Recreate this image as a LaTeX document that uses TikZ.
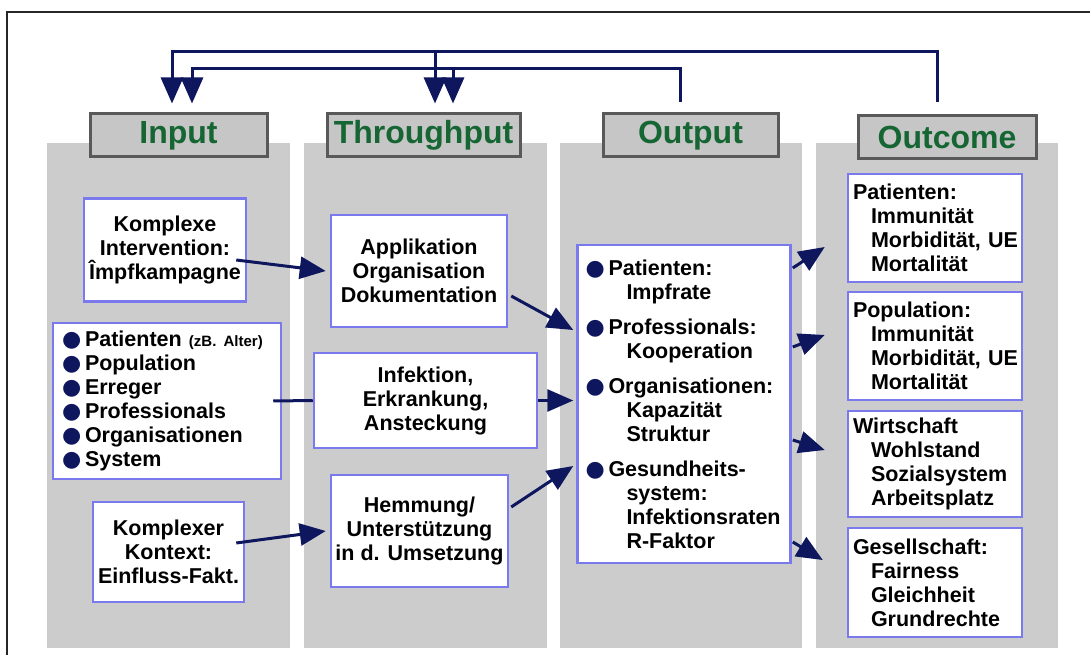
\documentclass[tikz,border=0pt]{standalone}
\usepackage{fontspec}
\setmainfont{Liberation Sans}
\newfontfamily\symfont{DejaVu Sans}
\usetikzlibrary{arrows.meta,positioning}
\definecolor{navy}{RGB}{14,22,94}
\definecolor{frameblue}{RGB}{122,122,238}
\definecolor{panelgray}{RGB}{204,204,204}
\definecolor{headgray}{RGB}{198,198,198}
\definecolor{headgreen}{RGB}{22,102,52}
\newcommand{\bul}{\makebox[24pt][l]{\hspace*{1pt}{\symfont\fontsize{22}{22}\selectfont\textcolor{navy}{●}}}}
\newcommand{\ind}{\hspace*{18pt}}
\newcommand{\sub}{\hspace*{42pt}}
\begin{document}
\begin{tikzpicture}
            [x = 1pt, y = -1pt,
             panel/.style = {fill = panelgray},
             head/.style = {draw = black!65, line width = 3pt, fill = headgray, text = headgreen,
                            font = \fontsize{32}{36}\selectfont\bfseries, minimum height = 43pt, inner sep = 0pt},
             box/.style = {draw = frameblue, line width = 2.5pt, fill = white,
                           font = \fontsize{21.5}{24}\selectfont\bfseries, align = center, inner sep = 0pt},
             lbox/.style = {box, align = left},
             link/.style = {draw = navy, line width = 3pt},
             arr/.style = {link, -{Triangle[length = 26pt, width = 22pt]}}]
            \useasboundingbox (0,0) rectangle (1090,655);
            \fill[panel] (47,143) rectangle (290,648);
            \fill[panel] (304,143) rectangle (547,648);
            \fill[panel] (560,143) rectangle (802,648);
            \fill[panel] (816,143) rectangle (1058,648);
            \draw[line width = 2.5pt, black!85] (7,660) -- (7,12) -- (1095,12);
            \node[head, minimum width = 177pt] (hin) at (178.5,135.5) {Input};
            \node[head, minimum width = 193pt] (hthr) at (423.5,135.5) {Throughput};
            \node[head, minimum width = 175pt] (hout) at (690.5,135.5) {Output};
            \node[head, minimum width = 178pt] (hoc) at (947,137) {Outcome};
            \node[box, minimum width = 162pt, minimum height = 103pt] (imp) at (165,250) {Komplexe\\Intervention:\\Împfkampagne};
            \node[lbox, minimum width = 228pt, minimum height = 156pt, inner xsep = 8pt, text width = 212pt] (pop) at (167,401)
                {\bul Patienten {\fontsize{15}{24}\selectfont (zB. Alter)}\\\bul Population\\\bul Erreger\\\bul Professionals\\\bul Organisationen\\\bul System};
            \node[box, minimum width = 151pt, minimum height = 100pt] (ctx) at (168.5,552) {Komplexer\\Kontext:\\Einfluss-Fakt.};
            \node[box, minimum width = 176pt, minimum height = 112pt] (appl) at (419,271) {Applikation\\Organisation\\Dokumentation};
            \node[box, minimum width = 223pt, minimum height = 95pt] (inf) at (425.5,400.5) {Infektion,\\Erkrankung,\\Ansteckung};
            \node[box, minimum width = 177pt, minimum height = 112pt] (hem) at (419.5,531) {Hemmung/\\Unterstützung\\in d. Umsetzung};
            \node[lbox, minimum width = 213pt, minimum height = 318pt, inner xsep = 7pt, text width = 199pt] (out) at (684,404)
                {\bul Patienten:\\\sub Impfrate\\[11pt]\bul Professionals:\\\sub Kooperation\\[11pt]\bul Organisationen:\\\sub Kapazität\\\sub Struktur\\[11pt]\bul Gesundheits-\\\sub system:\\\sub\mbox{Infektionsraten}\\\sub R-Faktor};
            \node[lbox, minimum width = 174pt, minimum height = 108pt, inner xsep = 5pt, text width = 164pt] (pat) at (935,228)
                {Patienten:\\\ind Immunität\\\ind\mbox{Morbidität, UE}\\\ind Mortalität};
            \node[lbox, minimum width = 174pt, minimum height = 108pt, inner xsep = 5pt, text width = 164pt] (popu) at (935,346)
                {Population:\\\ind Immunität\\\ind\mbox{Morbidität, UE}\\\ind Mortalität};
            \node[lbox, minimum width = 174pt, minimum height = 106pt, inner xsep = 5pt, text width = 164pt] (wirt) at (935,464)
                {Wirtschaft\\\ind Wohlstand\\\ind Sozialsystem\\\ind Arbeitsplatz};
            \node[lbox, minimum width = 174pt, minimum height = 109pt, inner xsep = 5pt, text width = 164pt] (ges) at (935,582.5)
                {Gesellschaft:\\\ind Fairness\\\ind Gleichheit\\\ind Grundrechte};
            \draw[arr] ([xshift = -11pt, yshift = -10pt]imp.east) -- ([xshift = -4pt]appl.west);
            \draw[arr] ([xshift = -9pt, yshift = 9pt]ctx.east) -- ([xshift = -4pt]hem.west);
            \draw[link] ([xshift = -9pt]pop.east) -- (inf.west);
            \draw[arr] ([xshift = 3pt, yshift = -25pt]appl.east) -- ([xshift = -3pt, yshift = 74pt]out.west);
            \draw[arr] (inf.east) -- ([xshift = -3pt]inf.east -| out.west);
            \draw[arr] ([xshift = 2pt, yshift = 24pt]hem.east) -- ([xshift = -3pt, yshift = -62pt]out.west);
            \draw[arr] ([xshift = 1pt, yshift = 136pt]out.east) -- ([xshift = -22pt, yshift = -19pt]pat.west);
            \draw[arr] ([xshift = 1pt, yshift = 57pt]out.east) -- ([xshift = -22pt, yshift = 11pt]popu.west);
            \draw[arr] ([xshift = 1pt, yshift = -36pt]out.east) -- ([xshift = -22pt, yshift = 14pt]wirt.west);
            \draw[arr] ([xshift = 1pt, yshift = -138pt]out.east) -- ([xshift = -24pt, yshift = 22.5pt]ges.west);
            \coordinate (fo) at ([xshift = -10pt, yshift = 10pt]hout.north);
            \coordinate (fc) at ([xshift = -10pt, yshift = 11.5pt]hoc.north);
            \coordinate (ta) at ([xshift = -6.5pt, yshift = 9pt]hin.north);
            \coordinate (tb) at ([xshift = 13.5pt, yshift = 9pt]hin.north);
            \coordinate (tc) at ([xshift = 11.5pt, yshift = 9pt]hthr.north);
            \coordinate (td) at ([xshift = 29.5pt, yshift = 9pt]hthr.north);
            \draw[arr] (fc) -- (fc |- 0,52) -| (ta);
            \draw[arr] (tc |- 0,52) -- (tc);
            \draw[arr] (fo) -- (fo |- 0,69) -| (tb);
            \draw[arr] (td |- 0,69) -- (td);
        \end{tikzpicture}
\end{document}
